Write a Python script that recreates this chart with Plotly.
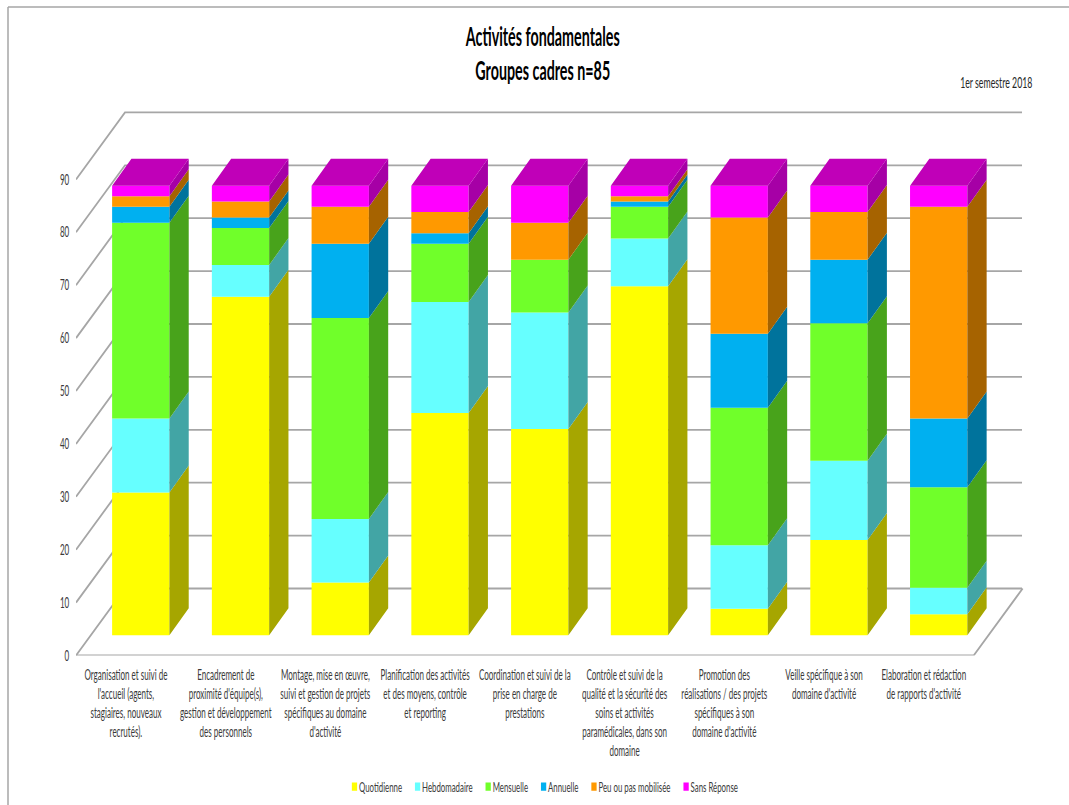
import plotly.graph_objects as go

# Counts per activity, n = 85 for every column
categories = [
    "Organisation et suivi de<br>l'accueil (agents,<br>stagiaires, nouveaux<br>recrutés).",
    "Encadrement de<br>proximité d'équipe(s),<br>gestion et développement<br>des personnels",
    "Montage, mise en œuvre,<br>suivi et gestion de projets<br>spécifiques au domaine<br>d'activité",
    "Planification des activités<br>et des moyens, contrôle<br>et reporting",
    "Coordination et suivi de la<br>prise en charge de<br>prestations",
    "Contrôle et suivi de la<br>qualité et la sécurité des<br>soins et activités<br>paramédicales, dans son<br>domaine",
    "Promotion des<br>réalisations / des projets<br>spécifiques à son<br>domaine d'activité",
    "Veille spécifique à son<br>domaine d'activité",
    "Elaboration et rédaction<br>de rapports d'activité",
]
quotidienne = [27, 64, 10, 42, 39, 66, 5, 18, 4]
hebdomadaire = [14, 6, 12, 21, 22, 9, 12, 15, 5]
mensuelle = [37, 7, 38, 11, 10, 6, 26, 26, 19]
annuelle = [3, 2, 14, 2, 0, 1, 14, 12, 13]
peu_ou_pas = [2, 3, 7, 4, 7, 1, 22, 9, 40]
sans_reponse = [2, 3, 4, 5, 7, 2, 6, 5, 4]
y_ticks = [0, 10, 20, 30, 40, 50, 60, 70, 80, 90]

series = [
    ("Quotidienne", quotidienne, "#FFFF00", "#A6A600"),
    ("Hebdomadaire", hebdomadaire, "#66FFFF", "#42A5A5"),
    ("Mensuelle", mensuelle, "#70FF2A", "#48A31B"),
    ("Annuelle", annuelle, "#00B0F0", "#00739C"),
    ("Peu ou pas mobilisée", peu_ou_pas, "#FF9900", "#A66300"),
    ("Sans Réponse", sans_reponse, "#FF00FF", "#A600A6"),
]
TOP_COLOR = "#C000B8"
GRID_COLOR = "#A6A6A6"
TEXT_COLOR = "#3A3A3A"
FONT = "Lato"

# Canvas and oblique projection, in pixels
W, H = 1069, 805
LEFT, FLOOR = 76.0, 655.5
PX_X, PX_Y = 99.74, 5.29          # pixels per category, pixels per count
x_top = (W - LEFT) / PX_X
y_top = FLOOR / PX_Y

WALL_DX, WALL_DY = 49 / PX_X, 67 / PX_Y      # floor depth
SHIFT_X, SHIFT_Y = 14.9 / PX_X, 20.2 / PX_Y  # column front face behind the front edge
BAR_DX, BAR_DY = 19.3 / PX_X, 27 / PX_Y      # column depth
BAR_W = 57.3 / PX_X
centers = [i + 0.5 for i in range(len(categories))]

fig = go.Figure()

# Back wall gridlines, each with its diagonal on the side wall
gx, gy = [], []
for v in y_ticks:
    gx += [0, WALL_DX, (1022 - LEFT) / PX_X, None]
    gy += [v, v + WALL_DY, v + WALL_DY, None]
# Front and right edges of the floor
n = len(categories)
gx += [0, n, n + WALL_DX, None]
gy += [0, 0, WALL_DY, None]
fig.add_trace(go.Scatter(x=gx, y=gy, mode="lines", cliponaxis=False, showlegend=False,
                         hoverinfo="skip", line=dict(color=GRID_COLOR, width=1.8)))

# Front faces and the oblique right sides of each stack
cum = [0] * n
for name, vals, color, side in series:
    sx, sy = [], []
    for c, b, v in zip(centers, cum, vals):
        r = c + BAR_W / 2
        sx += [r, r + BAR_DX, r + BAR_DX, r, r, None]
        sy += [b, b + BAR_DY, b + v + BAR_DY, b + v, b, None]
    fig.add_trace(go.Scatter(x=sx, y=sy, xaxis="x2", yaxis="y2", mode="lines", fill="toself",
                             fillcolor=side, line=dict(width=0, color=side),
                             showlegend=False, hoverinfo="skip"))
    fig.add_trace(go.Bar(x=centers, y=vals, base=cum, width=BAR_W, name=name, xaxis="x2", yaxis="y2",
                         marker=dict(color=color, line=dict(width=0))))
    cum = [b + v for b, v in zip(cum, vals)]

# Top cap of each stack
tx, ty = [], []
for c, t in zip(centers, cum):
    l, r = c - BAR_W / 2, c + BAR_W / 2
    tx += [l, r, r + BAR_DX, l + BAR_DX, l, None]
    ty += [t, t, t + BAR_DY, t + BAR_DY, t, None]
fig.add_trace(go.Scatter(x=tx, y=ty, xaxis="x2", yaxis="y2", mode="lines", fill="toself",
                         fillcolor=TOP_COLOR, line=dict(width=0, color=TOP_COLOR),
                         showlegend=False, hoverinfo="skip"))

fig.update_layout(
    width=W, height=H, autosize=False,
    margin=dict(l=0, r=0, t=0, b=0, autoexpand=False),
    paper_bgcolor="white", plot_bgcolor="white",
    barmode="overlay",
    font=dict(family=FONT, size=14.6, color=TEXT_COLOR),
    title=dict(text="Activités fondamentales<br>Groupes cadres n=85", x=543 / W, xanchor="center",
               y=1 - 46.5 / H, yanchor="middle", font=dict(family=FONT, size=26, color="black", weight="bold")),
    xaxis=dict(domain=[LEFT / W, 1], range=[0, x_top], tickmode="array", tickvals=centers,
               ticktext=categories, tickangle=0, showgrid=False, zeroline=False, showline=False,
               ticks="", ticklabelstandoff=9, tickfont=dict(size=14.6, color=TEXT_COLOR)),
    yaxis=dict(domain=[(H - FLOOR) / H, 1], range=[0, y_top], tickmode="array", tickvals=y_ticks,
               showgrid=False, zeroline=False, showline=False, ticks="", ticklabelstandoff=6,
               tickfont=dict(size=14.6, color=TEXT_COLOR)),
    xaxis2=dict(overlaying="x", range=[-SHIFT_X, x_top - SHIFT_X], visible=False),
    yaxis2=dict(overlaying="y", range=[-SHIFT_Y, y_top - SHIFT_Y], visible=False),
    legend=dict(orientation="h", x=545 / W, xanchor="center", y=1 - 787 / H, yanchor="middle",
                font=dict(size=14, color=TEXT_COLOR), traceorder="normal"),
    annotations=[dict(text="1er semestre 2018", xref="paper", yref="paper", x=996.5 / W, y=1 - 82 / H,
                      xanchor="center", yanchor="middle", showarrow=False,
                      font=dict(size=14.6, color="#262626"))],
    shapes=[dict(type="line", xref="paper", yref="paper", x0=8 / W, x1=8 / W, y0=0, y1=1 - 7 / H,
                 line=dict(color=GRID_COLOR, width=1.5)),
            dict(type="line", xref="paper", yref="paper", x0=8 / W, x1=1, y0=1 - 7 / H, y1=1 - 7 / H,
                 line=dict(color=GRID_COLOR, width=1.5))],
)

# Condenses the labels horizontally and tightens the legend row
CONDENSE = """
(function () {
  var gd = document.querySelector('.plotly-graph-div');
  var X = 0.55, LEG = 0.56;
  function squeeze(t, s, side) {
    if (t.getAttribute('data-sq')) return;
    t.setAttribute('data-sq', '1');
    var b = t.getBBox();
    var o = side === 'right' ? b.x + b.width : side === 'left' ? b.x : b.x + b.width / 2;
    var base = t.getAttribute('transform') || '';
    t.setAttribute('transform', base + ' translate(' + o + ',0) scale(' + s + ',1) translate(' + (-o) + ',0)');
  }
  function run() {
    gd.querySelectorAll('.xtick text').forEach(function (t) { squeeze(t, X, 'mid'); });
    gd.querySelectorAll('.annotation-text').forEach(function (t) { squeeze(t, 0.6, 'mid'); });
    gd.querySelectorAll('.ytick text').forEach(function (t) { squeeze(t, X, 'right'); });
    gd.querySelectorAll('.gtitle').forEach(function (t) { squeeze(t, 0.55, 'mid'); });
    var items = Array.prototype.slice.call(gd.querySelectorAll('.legend .traces'));
    if (!items.length || items[0].getAttribute('data-sq')) return;
    var bg = gd.querySelector('.legend .bg').getBBox();
    var widths = items.map(function (g) { return g.querySelector('.legendtext').getBBox().width * LEG; });
    var total = widths.reduce(function (a, w) { return a + w + 20; }, 0) - 13;
    var cur = (bg.width - total) / 2;
    items.forEach(function (g, i) {
      g.setAttribute('data-sq', '1');
      var m = /,\\s*([-\\d.]+)\\)/.exec(g.getAttribute('transform'));
      g.setAttribute('transform', 'translate(' + cur + ',' + (m ? m[1] : 0) + ')');
      var p = g.querySelector('.legendpoints path');
      if (p) p.setAttribute('transform', 'translate(2.5,0) scale(0.44,0.7)');
      var t = g.querySelector('.legendtext');
      t.setAttribute('x', 7);
      var b = t.getBBox();
      t.setAttribute('transform', 'translate(' + b.x + ',0) scale(' + LEG + ',1) translate(' + (-b.x) + ',0)');
      cur += widths[i] + 20;
    });
  }
  run();
  gd.on('plotly_afterplot', run);
})();
"""

fig.write_html("out.html", post_script=CONDENSE)
